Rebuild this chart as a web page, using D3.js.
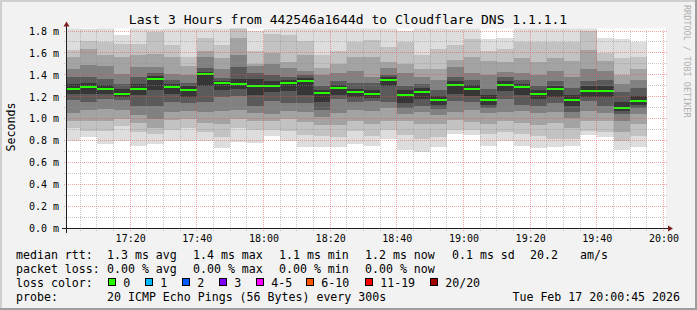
<!DOCTYPE html>
<html lang="en">
<head>
<meta charset="utf-8">
<title>SmokePing - Cloudflare DNS 1.1.1.1</title>
<script src="https://cdn.jsdelivr.net/npm/d3@7"></script>
<style>
  body { margin: 0; background: #f2f2f2; }
  svg { display: block; }
  text { font-family: 'DejaVu Sans Mono', monospace; fill: #000; }
</style>
</head>
<body>
<svg width="697" height="310"></svg>
<script>
// ---- data ----
const title = 'Last 3 Hours from 442546a1644d to Cloudflare DNS 1.1.1.1';
const tStart = new Date(2026, 1, 17, 17, 0, 45);
const tEnd = new Date(2026, 1, 17, 20, 0, 45);
const firstStep = new Date(2026, 1, 17, 17, 0, 0);
const stepMinutes = 5;

// median rtt per 5 minute step (ms)
const medians = [1.274, 1.293, 1.274, 1.226, 1.274, 1.366, 1.293, 1.265, 1.408, 1.326,
  1.317, 1.302, 1.302, 1.326, 1.345, 1.238, 1.284, 1.247, 1.226, 1.354,
  1.220, 1.247, 1.171, 1.311, 1.274, 1.171, 1.311, 1.287, 1.229, 1.274,
  1.174, 1.256, 1.256, 1.098, 1.162];

// sorted ping spread per step (ms): outer band low .. inner, inner .. outer band high
const smoke = [
  [0.80, 0.92, 0.98, 1.05, 1.17, 1.23, 1.32, 1.38, 1.45, 1.56, 1.63, 1.90],
  [0.83, 0.89, 0.98, 1.08, 1.15, 1.23, 1.33, 1.38, 1.49, 1.64, 1.71, 1.82],
  [0.77, 0.89, 0.98, 1.09, 1.18, 1.23, 1.31, 1.36, 1.48, 1.58, 1.70, 1.90],
  [0.80, 0.93, 1.00, 1.08, 1.17, 1.20, 1.27, 1.32, 1.41, 1.56, 1.68, 1.76],
  [0.75, 0.88, 0.96, 1.03, 1.12, 1.22, 1.32, 1.38, 1.47, 1.58, 1.68, 1.90],
  [0.77, 0.86, 0.92, 1.00, 1.12, 1.26, 1.39, 1.42, 1.47, 1.59, 1.79, 1.82],
  [0.80, 0.90, 0.99, 1.06, 1.15, 1.23, 1.32, 1.35, 1.41, 1.56, 1.67, 1.90],
  [0.80, 0.92, 1.00, 1.07, 1.14, 1.20, 1.30, 1.33, 1.40, 1.48, 1.56, 1.90],
  [0.80, 0.88, 0.96, 1.06, 1.15, 1.30, 1.43, 1.46, 1.56, 1.62, 1.74, 1.90],
  [0.73, 0.83, 0.95, 1.07, 1.20, 1.26, 1.34, 1.37, 1.45, 1.55, 1.67, 1.90],
  [0.79, 0.92, 1.00, 1.08, 1.21, 1.27, 1.36, 1.47, 1.58, 1.74, 1.85, 1.95],
  [0.78, 0.90, 0.98, 1.05, 1.12, 1.22, 1.36, 1.42, 1.48, 1.50, 1.62, 1.80],
  [0.84, 0.90, 0.98, 1.04, 1.16, 1.24, 1.34, 1.40, 1.50, 1.60, 1.77, 1.82],
  [0.80, 0.89, 1.00, 1.07, 1.14, 1.25, 1.35, 1.38, 1.46, 1.52, 1.76, 1.90],
  [0.745, 0.85, 0.97, 1.06, 1.14, 1.22, 1.37, 1.40, 1.44, 1.58, 1.71, 1.90],
  [0.74, 0.84, 0.94, 1.02, 1.08, 1.15, 1.26, 1.30, 1.40, 1.46, 1.58, 1.90],
  [0.745, 0.83, 0.94, 1.05, 1.18, 1.22, 1.31, 1.34, 1.42, 1.50, 1.62, 1.90],
  [0.77, 0.89, 0.98, 1.08, 1.15, 1.20, 1.27, 1.33, 1.44, 1.56, 1.70, 1.90],
  [0.75, 0.84, 0.95, 1.07, 1.16, 1.19, 1.26, 1.33, 1.38, 1.56, 1.72, 1.90],
  [0.82, 0.90, 0.98, 1.10, 1.15, 1.30, 1.38, 1.40, 1.46, 1.52, 1.65, 1.90],
  [0.72, 0.85, 0.98, 1.04, 1.10, 1.14, 1.26, 1.30, 1.42, 1.50, 1.70, 1.80],
  [0.70, 0.82, 0.95, 1.06, 1.12, 1.18, 1.28, 1.32, 1.38, 1.45, 1.58, 1.90],
  [0.745, 0.83, 0.95, 1.03, 1.09, 1.13, 1.21, 1.26, 1.35, 1.45, 1.64, 1.90],
  [0.86, 0.90, 0.99, 1.06, 1.16, 1.23, 1.34, 1.38, 1.47, 1.54, 1.67, 1.82],
  [0.85, 0.90, 0.97, 1.08, 1.15, 1.21, 1.31, 1.35, 1.42, 1.56, 1.73, 1.90],
  [0.75, 0.86, 0.95, 1.05, 1.10, 1.13, 1.22, 1.27, 1.40, 1.53, 1.62, 1.73],
  [0.80, 0.88, 0.98, 1.06, 1.18, 1.25, 1.34, 1.38, 1.43, 1.52, 1.64, 1.74],
  [0.75, 0.86, 0.96, 1.07, 1.13, 1.22, 1.32, 1.35, 1.42, 1.55, 1.70, 1.90],
  [0.73, 0.84, 0.94, 1.05, 1.12, 1.18, 1.26, 1.30, 1.40, 1.52, 1.70, 1.90],
  [0.745, 0.82, 0.96, 1.06, 1.14, 1.20, 1.30, 1.34, 1.44, 1.55, 1.70, 1.90],
  [0.75, 0.82, 0.92, 1.01, 1.06, 1.12, 1.22, 1.28, 1.38, 1.53, 1.70, 1.90],
  [0.85, 0.89, 0.98, 1.07, 1.16, 1.20, 1.30, 1.34, 1.45, 1.63, 1.80, 1.95],
  [0.83, 0.88, 0.98, 1.05, 1.12, 1.20, 1.30, 1.35, 1.44, 1.53, 1.60, 1.74],
  [0.72, 0.80, 0.88, 0.98, 1.04, 1.07, 1.15, 1.24, 1.32, 1.40, 1.55, 1.73],
  [0.74, 0.84, 0.95, 1.04, 1.10, 1.13, 1.21, 1.28, 1.35, 1.45, 1.56, 1.70]
];

const yTicks = [0, 0.2, 0.4, 0.6, 0.8, 1.0, 1.2, 1.4, 1.6, 1.8];
const xTicks = ['17:20', '17:40', '18:00', '18:20', '18:40', '19:00', '19:20', '19:40', '20:00'];

const lossLabels = ['0', '1', '2', '3', '4-5', '6-10', '11-19', '20/20'];
const lossColors = ['#26ff00', '#00b8ff', '#0059ff', '#7e00ff', '#ff00ff', '#ff5500', '#ff0000', '#a00000'];

const rttRow = ['median rtt:', '1.3 ms avg', '1.4 ms max', '1.1 ms min', '1.2 ms now', '0.1 ms sd', '20.2', 'am/s'];
const lossRow = ['packet loss:', '0.00 % avg', '0.00 % max', '0.00 % min', '0.00 % now'];
const probeText = '20 ICMP Echo Pings (56 Bytes) every 300s';
const stampText = 'Tue Feb 17 20:00:45 2026';

// ---- layout ----
const svg = d3.select('svg');
const W = +svg.attr('width');
const H = +svg.attr('height');
const plot = {left: 66, right: 666, top: 28.5, bottom: 228.5};
const yMax = 1.823;
const bandColors = ['#dddddd', '#c2c2c2', '#a3a3a3', '#818181', '#5a5a5a', '#363636'];
const snap = v => Math.round(v - 0.5) + 0.5;

const x = d3.scaleTime().domain([tStart, tEnd]).range([plot.left, plot.right]);
const y = d3.scaleLinear().domain([0, yMax]).range([plot.bottom, plot.top]);

// background + frame shading
svg.append('rect').attr('width', W).attr('height', H).attr('fill', '#f2f2f2');
svg.append('path').attr('d', `M1,${H} V1 H${W}`).attr('fill', 'none')
  .attr('stroke', '#cfcfcf').attr('stroke-width', 2);
svg.append('path').attr('d', `M0,${H - 1} H${W - 1} V0`).attr('fill', 'none')
  .attr('stroke', '#9e9e9e').attr('stroke-width', 2);

// canvas
svg.append('rect')
  .attr('x', plot.left).attr('y', plot.top)
  .attr('width', plot.right - plot.left).attr('height', plot.bottom - plot.top)
  .attr('fill', '#ffffff');

svg.append('clipPath').attr('id', 'plotclip')
  .append('rect')
  .attr('x', plot.left).attr('y', plot.top)
  .attr('width', plot.right - plot.left).attr('height', plot.bottom - plot.top);

const steps = medians.map((m, i) => ({
  t0: d3.timeMinute.offset(firstStep, i * stepMinutes),
  t1: d3.timeMinute.offset(firstStep, (i + 1) * stepMinutes),
  median: m,
  q: smoke[i]
}));

// smoke bands, outer (light) to inner (dark)
const smokeG = svg.append('g')
  .attr('clip-path', 'url(#plotclip)')
  .attr('shape-rendering', 'crispEdges');

bandColors.forEach((c, k) => {
  smokeG.append('g').attr('fill', c)
    .selectAll('rect')
    .data(steps).join('rect')
    .attr('x', d => x(d.t0))
    .attr('width', d => x(d.t1) - x(d.t0))
    .attr('y', d => y(d.q[11 - k]))
    .attr('height', d => y(d.q[k]) - y(d.q[11 - k]));
});

// median line, coloured by loss (all 0 loss here)
smokeG.append('g').attr('fill', lossColors[0])
  .selectAll('rect')
  .data(steps).join('rect')
  .attr('x', d => x(d.t0))
  .attr('width', d => x(d.t1) - x(d.t0))
  .attr('y', d => Math.round(y(d.median)) - 1)
  .attr('height', 2);

// grid
const gridMinor = 'rgba(143,143,143,0.5)';
const gridMajor = 'rgba(222,79,79,0.5)';
const grid = svg.append('g').attr('shape-rendering', 'crispEdges');

const minorY = d3.range(1, 18, 2).map(i => i / 10);
const majorY = yTicks.filter(v => v > 0);
const parseHM = d3.timeParse('%Y-%m-%d %H:%M');
const majorX = xTicks.map(s => parseHM('2026-02-17 ' + s));
const minorX = d3.timeMinute.every(5).range(tStart, tEnd)
  .filter(t => t.getMinutes() % 20 !== 0);

function hLines(vals, color) {
  grid.append('g').selectAll('line').data(vals).join('line')
    .attr('x1', plot.left - 2).attr('x2', plot.right + 2)
    .attr('y1', d => snap(y(d))).attr('y2', d => snap(y(d)))
    .attr('stroke', color).attr('stroke-dasharray', '1,1');
}
function vLines(vals, color) {
  grid.append('g').selectAll('line').data(vals).join('line')
    .attr('x1', d => snap(x(d))).attr('x2', d => snap(x(d)))
    .attr('y1', plot.bottom + 2).attr('y2', plot.top)
    .attr('stroke', color).attr('stroke-dasharray', '1,1');
}
hLines(minorY, gridMinor);
vLines(minorX, gridMinor);
hLines(majorY, gridMajor);
vLines(majorX, gridMajor);

// axis lines + arrows
const axisCol = '#1f1f1f';
const arrowCol = '#801f1f';
svg.append('line')
  .attr('x1', plot.left - 4).attr('x2', plot.right + 4)
  .attr('y1', plot.bottom).attr('y2', plot.bottom)
  .attr('stroke', axisCol).attr('shape-rendering', 'crispEdges');
svg.append('line')
  .attr('x1', plot.left + 0.5).attr('x2', plot.left + 0.5)
  .attr('y1', plot.bottom + 4).attr('y2', plot.top - 3)
  .attr('stroke', axisCol).attr('shape-rendering', 'crispEdges');
svg.append('path')
  .attr('d', `M${plot.right + 2},${plot.bottom - 3} L${plot.right + 7},${plot.bottom} L${plot.right + 2},${plot.bottom + 3} Z`)
  .attr('fill', arrowCol);
svg.append('path')
  .attr('d', `M${plot.left - 2.5},${plot.top - 2} L${plot.left + 0.5},${plot.top - 7} L${plot.left + 3.5},${plot.top - 2} Z`)
  .attr('fill', arrowCol);

// tick labels via d3 axes
const yAxis = d3.axisLeft(y)
  .tickValues(yTicks)
  .tickSize(0)
  .tickPadding(7)
  .tickFormat(d => d3.format('.1f')(d) + ' m');
const yAxisG = svg.append('g')
  .attr('transform', `translate(${plot.left},0)`)
  .call(yAxis);
yAxisG.select('.domain').remove();
yAxisG.selectAll('text')
  .attr('font-family', "'DejaVu Sans Mono', monospace")
  .attr('font-size', 10).attr('fill', '#000');

const xAxis = d3.axisBottom(x)
  .tickValues(majorX)
  .tickSize(0)
  .tickPadding(6)
  .tickFormat(d3.timeFormat('%H:%M'));
const xAxisG = svg.append('g')
  .attr('transform', `translate(0,${plot.bottom})`)
  .call(xAxis);
xAxisG.select('.domain').remove();
xAxisG.selectAll('text')
  .attr('font-family', "'DejaVu Sans Mono', monospace")
  .attr('font-size', 10).attr('fill', '#000');

// title, unit label, watermark
svg.append('text')
  .attr('x', 348).attr('y', 23.5)
  .attr('text-anchor', 'middle')
  .attr('font-size', 13)
  .text(title);

svg.append('text')
  .attr('transform', 'translate(15,127) rotate(-90)')
  .attr('text-anchor', 'middle')
  .attr('font-size', 11.6)
  .text('Seconds');

svg.append('text')
  .attr('transform', 'translate(684,5) rotate(90)')
  .attr('font-size', 8.5)
  .style('fill', '#b0b0b0')
  .text('RRDTOOL / TOBI OETIKER');

// legend
const legendFont = 11.6;
const rowY = [258.5, 272.5, 286.5, 300.5];
const rttX = [16, 107, 193, 279, 365, 452, 530, 580];
const lossX = [16, 107, 193, 279, 365];
const swatchX = [108.5, 145.5, 182.5, 219.5, 256.5, 306.5, 365.5, 430.5];

const legend = svg.append('g').attr('font-size', legendFont).style('white-space', 'pre');
legend.append('g').selectAll('text').data(rttRow).join('text')
  .attr('x', (d, i) => rttX[i]).attr('y', rowY[0]).text(d => d);
legend.append('g').selectAll('text').data(lossRow).join('text')
  .attr('x', (d, i) => lossX[i]).attr('y', rowY[1]).text(d => d);
legend.append('text').attr('x', 16).attr('y', rowY[2]).text('loss color:');

const sw = legend.append('g').selectAll('g').data(lossLabels).join('g');
sw.append('rect')
  .attr('x', (d, i) => swatchX[i]).attr('y', rowY[2] - 8)
  .attr('width', 7).attr('height', 7)
  .attr('fill', (d, i) => lossColors[i])
  .attr('stroke', '#000').attr('stroke-width', 1);
sw.append('text')
  .attr('x', (d, i) => swatchX[i] + 14.7).attr('y', rowY[2])
  .text(d => d);

legend.append('text').attr('x', 16).attr('y', rowY[3]).text('probe:');
legend.append('text').attr('x', 107).attr('y', rowY[3]).text(probeText);
legend.append('text').attr('x', 680).attr('y', rowY[3])
  .attr('text-anchor', 'end').text(stampText);
</script>
</body>
</html>
